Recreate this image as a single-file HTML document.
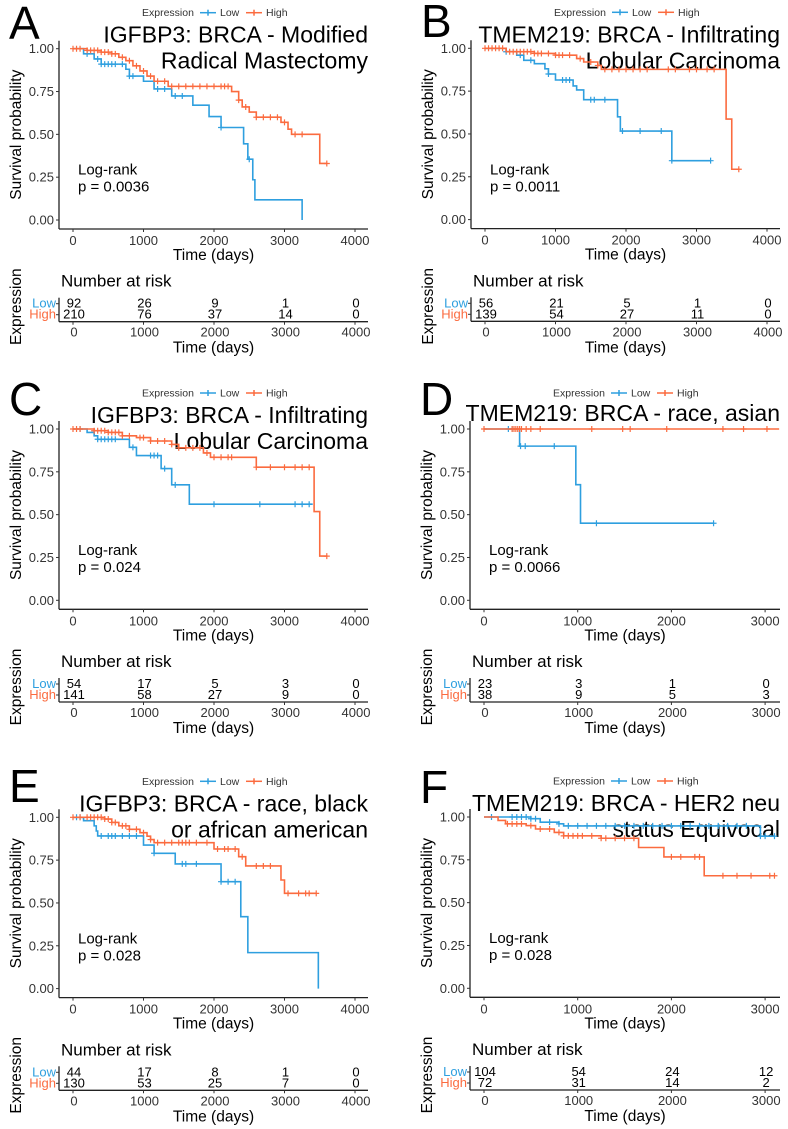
<!DOCTYPE html>
<html><head><meta charset="utf-8"><style>
html,body{margin:0;padding:0;background:#fff;}
svg{display:block;font-family:"Liberation Sans",sans-serif;}
</style></head><body>
<svg id="fig" width="788" height="1129" viewBox="0 0 788 1129" xmlns="http://www.w3.org/2000/svg"></svg>
<script>
// ---------- Panel A data ----------
const aLowT=[0,150,300,400,750,800,1000,1150,1400,1700,1930,2100,2420,2480,2550,2580,3250];
const aLowS=[1,0.97,0.94,0.91,0.88,0.84,0.81,0.765,0.724,0.67,0.604,0.54,0.445,0.355,0.235,0.118,0];
const aLowC=[200,350,400,450,500,550,600,700,800,850,1200,1300,1450,1550,2100,2500];
const aHighT=[0,200,400,550,650,750,850,950,1050,1150,1350,2250,2350,2400,2500,2600,2950,3050,3100,3500,3600];
const aHighS=[1,0.99,0.98,0.97,0.95,0.93,0.90,0.87,0.84,0.81,0.78,0.75,0.70,0.66,0.63,0.60,0.57,0.53,0.50,0.33,0.33];
const aHighC=[0,50,100,200,250,300,350,400,450,500,550,600,700,800,900,1000,1100,1200,1300,1400,1500,1600,1700,1800,1900,2000,2100,2150,2200,2350,2450,2600,2700,2800,2900,3000,3150,3250,3600];
const aRiskLow=[92,26,9,1,0];
const aRiskHigh=[210,76,37,14,0];
// ---------- Panel B data ----------
const bLowT=[0,300,450,550,700,850,900,1000,1250,1300,1400,1880,1920,2650,3200];
const bLowS=[1,0.98,0.96,0.93,0.91,0.88,0.85,0.815,0.78,0.757,0.70,0.60,0.517,0.344,0.344];
const bLowC=[300,500,650,900,1100,1150,1200,1500,1550,1700,1950,2200,2500,2650,3200];
const bHighT=[0,300,700,1000,1300,1400,1600,1650,3420,3500,3600];
const bHighS=[1,0.98,0.97,0.96,0.94,0.92,0.90,0.877,0.587,0.294,0.294];
const bHighC=[0,50,100,150,200,250,350,400,450,500,550,600,650,700,750,800,900,1000,1050,1100,1200,1350,1500,1600,1700,1800,1900,2000,2100,2200,2300,2600,2700,2900,3000,3150,3250,3600];
const bRiskLow=[56,21,5,1,0];
const bRiskHigh=[139,54,27,11,0];
// ---------- Panel C data ----------
const cLowT=[0,200,300,350,800,900,1250,1400,1650,3400];
const cLowS=[1,0.98,0.96,0.94,0.893,0.845,0.769,0.674,0.561,0.561];
const cLowC=[100,350,400,450,500,550,600,850,1100,1150,1200,1300,1450,2000,2650,3150,3250,3350];
const cHighT=[0,300,500,700,900,1100,1400,1500,1850,1950,2600,3420,3500,3600];
const cHighS=[1,0.99,0.98,0.96,0.95,0.93,0.91,0.89,0.86,0.835,0.777,0.518,0.258,0.258];
const cHighC=[0,50,100,300,350,400,450,500,550,600,650,700,800,950,1000,1100,1200,1300,1400,1500,1600,1700,1800,1900,2000,2100,2200,2250,2600,2800,3000,3150,3250,3350,3600];
const cRiskLow=[54,17,5,3,0];
const cRiskHigh=[141,58,27,9,0];
// ---------- Panel D data ----------
const dLowT=[0,380,980,1030,2450];
const dLowS=[1,0.90,0.675,0.45,0.45];
const dLowC=[260,300,390,440,750,1200,2450];
const dHighT=[0,3150];
const dHighS=[1,1];
const dHighC=[0,300,320,340,360,380,400,450,500,600,1150,1480,1560,1950,2550,2770,3020];
const dRiskLow=[23,3,1,0];
const dRiskHigh=[38,9,5,3];
// ---------- Panel E data ----------
const eLowT=[0,150,300,330,350,1000,1150,1450,2100,2380,2480,3480];
const eLowS=[1,0.98,0.95,0.92,0.891,0.838,0.79,0.728,0.624,0.42,0.21,0];
const eLowC=[50,100,400,500,550,600,700,800,900,1150,1550,1600,1750,2100,2200,2300];
const eHighT=[0,450,550,650,800,950,1050,1100,1150,2000,2350,2450,2950,3000,3450];
const eHighS=[1,0.99,0.97,0.95,0.93,0.91,0.89,0.87,0.852,0.815,0.77,0.716,0.634,0.556,0.556];
const eHighC=[0,100,200,250,300,350,400,450,500,550,600,700,750,800,900,1000,1100,1200,1300,1400,1500,1550,1600,1650,1750,1900,2050,2150,2200,2300,2400,2600,2700,2800,3050,3200,3300,3350,3450];
const eRiskLow=[44,17,8,1,0];
const eRiskHigh=[130,53,25,7,0];
// ---------- Panel F data ----------
const fLowT=[0,500,600,800,850,2900,2950,3100];
const fLowS=[1,0.99,0.97,0.96,0.948,0.948,0.888,0.888];
const fLowC=[80,300,350,400,450,500,550,700,800,900,1000,1100,1200,1300,1400,1500,1600,1700,1800,1900,2000,2100,2200,2300,2400,2500,2600,2700,2800,2950,3000,3100];
const fHighT=[0,150,230,450,550,750,850,1250,1650,1920,2350,3100];
const fHighS=[1,0.98,0.96,0.95,0.93,0.91,0.89,0.876,0.822,0.767,0.657,0.657];
const fHighC=[250,300,350,400,500,600,700,800,850,900,950,1000,1050,1150,1250,1300,1400,1500,1600,2000,2100,2250,2300,2550,2700,2850,3050,3100];
const fRiskLow=[104,54,24,12];
const fRiskHigh=[72,31,14,2];

const xTicks4=[0,1000,2000,3000,4000];
const xTicks3=[0,1000,2000,3000];
const yTicks=[0,0.25,0.5,0.75,1];
const yTickLabels=["0.00","0.25","0.50","0.75","1.00"];

const BLUE="#2E9FDF", ORANGE="#FB6B3F";
const NS="http://www.w3.org/2000/svg";
const svg=document.getElementById('fig');

function mk(tag,attrs,parent,txt){
  const e=document.createElementNS(NS,tag);
  for(const k in attrs) e.setAttribute(k,attrs[k]);
  if(txt!==undefined) e.textContent=txt;
  (parent||svg).appendChild(e);
  return e;
}

function panel(c){
  const g=mk('g',{});
  
  
  const H=171.3;
  const y0=c.y1+H;
  const X=t=>c.x0+t*c.k/1000;
  const Y=s=>c.y1+(1-s)*H;
  const left=c.x0-14;
  const axY=y0+9;
  // letter
  const L=mk('text',{x:c.x0-64,y:c.letterY,'font-size':46,fill:'#000'},g,c.letter);
  
  
  // legend
  const lg=mk('g',{},g);
  
  
  const lx=c.x0+69, ly=c.y1-36;
  mk('text',{x:lx,y:ly+3.5,'font-size':10.5,fill:'#333'},lg,'Expression');
  const items=[[BLUE,'Low',lx+58],[ORANGE,'High',lx+104]];
  items.forEach(it=>{
    const e=mk('g',{},lg);
    
    
    mk('line',{x1:it[2],x2:it[2]+16,y1:ly,y2:ly,stroke:it[0],'stroke-width':1.5},e);
    mk('line',{x1:it[2]+8,x2:it[2]+8,y1:ly-3,y2:ly+3,stroke:it[0],'stroke-width':1.5},e);
    mk('text',{x:it[2]+20,y:ly+3.5,'font-size':10.5,fill:'#333'},e,it[1]);
  });
  // title
  c.title.forEach((t,i)=>{
    const tt=mk('text',{x:c.axisEnd,y:c.y1+(c.title.length===1?-8:(i===0?-6:20)),'font-size':23,'text-anchor':'end',fill:'#000'},g,t);
    
    
  });
  // axes
  const ax=mk('g',{},g);
  
  
  mk('line',{x1:left,x2:left,y1:c.y1-8,y2:axY,stroke:'#222','stroke-width':1.3},ax);
  mk('line',{x1:left,x2:c.axisEnd,y1:axY,y2:axY,stroke:'#222','stroke-width':1.3},ax);
  yTicks.forEach((v,i)=>{
    mk('line',{x1:left-3,x2:left,y1:Y(v),y2:Y(v),stroke:'#333','stroke-width':1},ax);
    mk('text',{x:left-5,y:Y(v)+4.5,'font-size':13,'text-anchor':'end',fill:'#333'},ax,yTickLabels[i]);
  });
  c.ticks.forEach(v=>{
    mk('line',{x1:X(v),x2:X(v),y1:axY,y2:axY+3,stroke:'#333','stroke-width':1},ax);
    mk('text',{x:X(v),y:axY+16,'font-size':13,'text-anchor':'middle',fill:'#333'},ax,String(v));
  });
  const xt=mk('text',{x:(left+c.axisEnd)/2,y:axY+31,'font-size':15.5,'text-anchor':'middle',fill:'#000'},g,'Time (days)');
  
  
  const yt=mk('text',{x:0,y:0,'font-size':15.5,'text-anchor':'middle',fill:'#000',transform:`translate(${c.x0-52},${c.y1+86}) rotate(-90)`},g,'Survival probability');
  
  
  // log-rank
  const lr=mk('text',{x:c.x0+5,y:c.y1+126,'font-size':15,fill:'#000'},g,'Log-rank');
  
  
  const pv=mk('text',{x:c.x0+5,y:c.y1+143,'font-size':15,fill:'#000'},g,'p = '+c.p);
  
  
  // curves
  [[c.lowT,c.lowS,c.lowC,BLUE,'low'],[c.highT,c.highS,c.highC,ORANGE,'high']].forEach(sr=>{
    const T=sr[0],S=sr[1],C=sr[2];
    let d='M'+X(T[0])+','+Y(S[0]);
    for(let i=1;i<T.length;i++){ d+=' H'+X(T[i])+' V'+Y(S[i]); }
    const p=mk('path',{d:d,fill:'none',stroke:sr[3],'stroke-width':1.6},g);
    
    
    const sv=t=>{let s=S[0];for(let i=0;i<T.length;i++){if(T[i]<=t)s=S[i];}return s;};
    C.forEach(t=>{
      const cx=X(t), cy=Y(sv(t));
      const m=mk('path',{d:`M${cx-3},${cy}H${cx+3}M${cx},${cy-3}V${cy+3}`,stroke:sr[3],'stroke-width':1.2},g);
      
      
    });
  });
  // risk table
  const N=c.y1+232;
  const rt=mk('g',{},g);
  
  
  mk('text',{x:c.x0-12,y:N+6,'font-size':17,fill:'#000'},rt,'Number at risk');
  mk('line',{x1:left,x2:left,y1:N+17,y2:N+41,stroke:'#222','stroke-width':1.3},rt);
  mk('line',{x1:left,x2:c.axisEnd,y1:N+41,y2:N+41,stroke:'#222','stroke-width':1.3},rt);
  mk('text',{x:left-3,y:N+27,'font-size':13,'text-anchor':'end',fill:BLUE},rt,'Low');
  mk('text',{x:left-3,y:N+38,'font-size':13,'text-anchor':'end',fill:ORANGE},rt,'High');
  mk('line',{x1:left-3,x2:left,y1:N+23,y2:N+23,stroke:'#333'},rt);
  mk('line',{x1:left-3,x2:left,y1:N+34,y2:N+34,stroke:'#333'},rt);
  c.ticks.forEach((v,i)=>{
    mk('text',{x:X(v)+1,y:N+27,'font-size':13,'text-anchor':'middle',fill:'#000'},rt,String(c.riskLow[i]));
    mk('text',{x:X(v)+1,y:N+38,'font-size':13,'text-anchor':'middle',fill:'#000'},rt,String(c.riskHigh[i]));
    mk('line',{x1:X(v),x2:X(v),y1:N+41,y2:N+44,stroke:'#333'},rt);
    mk('text',{x:X(v)+1,y:N+56,'font-size':13,'text-anchor':'middle',fill:'#333'},rt,String(v));
  });
  mk('text',{x:(left+c.axisEnd)/2,y:N+72,'font-size':15.5,'text-anchor':'middle',fill:'#000'},rt,'Time (days)');
  mk('text',{x:0,y:0,'font-size':15.5,'text-anchor':'middle',fill:'#000',transform:`translate(${c.x0-52},${N+26}) rotate(-90)`},rt,'Expression');
}

panel({letter:'A',x0:73,y1:48.7,k:70.5,axisEnd:368,letterY:39,ticks:xTicks4,title:['IGFBP3: BRCA - Modified','Radical Mastectomy'],p:'0.0036',
  lowT:aLowT,lowS:aLowS,lowC:aLowC,highT:aHighT,highS:aHighS,highC:aHighC,riskLow:aRiskLow,riskHigh:aRiskHigh});
panel({letter:'B',x0:485,y1:48.3,k:70.5,axisEnd:780,letterY:37,ticks:xTicks4,title:['TMEM219: BRCA - Infiltrating','Lobular Carcinoma'],p:'0.0011',
  lowT:bLowT,lowS:bLowS,lowC:bLowC,highT:bHighT,highS:bHighS,highC:bHighC,riskLow:bRiskLow,riskHigh:bRiskHigh});
panel({letter:'C',x0:73,y1:429,k:70.5,axisEnd:368,letterY:415,ticks:xTicks4,title:['IGFBP3: BRCA - Infiltrating','Lobular Carcinoma'],p:'0.024',
  lowT:cLowT,lowS:cLowS,lowC:cLowC,highT:cHighT,highS:cHighS,highC:cHighC,riskLow:cRiskLow,riskHigh:cRiskHigh});
panel({letter:'D',x0:484,y1:429,k:93.7,axisEnd:780,letterY:415,ticks:xTicks3,title:['TMEM219: BRCA - race, asian'],p:'0.0066',
  lowT:dLowT,lowS:dLowS,lowC:dLowC,highT:dHighT,highS:dHighS,highC:dHighC,riskLow:dRiskLow,riskHigh:dRiskHigh});
panel({letter:'E',x0:73,y1:817.3,k:70.5,axisEnd:368,letterY:802,ticks:xTicks4,title:['IGFBP3: BRCA - race, black','or african american'],p:'0.028',
  lowT:eLowT,lowS:eLowS,lowC:eLowC,highT:eHighT,highS:eHighS,highC:eHighC,riskLow:eRiskLow,riskHigh:eRiskHigh});
panel({letter:'F',x0:484,y1:817,k:93.7,axisEnd:780,letterY:803,ticks:xTicks3,title:['TMEM219: BRCA - HER2 neu','status Equivocal'],p:'0.028',
  lowT:fLowT,lowS:fLowS,lowC:fLowC,highT:fHighT,highS:fHighS,highC:fHighC,riskLow:fRiskLow,riskHigh:fRiskHigh});
</script>
</body></html>
